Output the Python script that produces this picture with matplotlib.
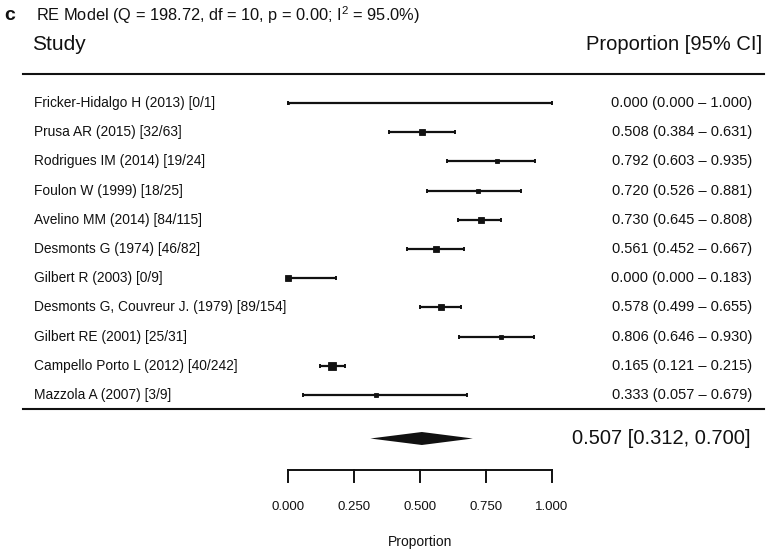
import matplotlib.pyplot as plt
import numpy as np

plt.rcParams["font.family"] = ["Liberation Sans", "DejaVu Sans"]
plt.rcParams["mathtext.fontset"] = "custom"
plt.rcParams["mathtext.rm"] = "Liberation Sans"
plt.rcParams["text.color"] = "#111111"

studies = [
    "Fricker-Hidalgo H (2013) [0/1]",
    "Prusa AR (2015) [32/63]",
    "Rodrigues IM (2014) [19/24]",
    "Foulon W (1999) [18/25]",
    "Avelino MM (2014) [84/115]",
    "Desmonts G (1974) [46/82]",
    "Gilbert R (2003) [0/9]",
    "Desmonts G, Couvreur J. (1979) [89/154]",
    "Gilbert RE (2001) [25/31]",
    "Campello Porto L (2012) [40/242]",
    "Mazzola A (2007) [3/9]",
]
est = [0.000, 0.508, 0.792, 0.720, 0.730, 0.561, 0.000, 0.578, 0.806, 0.165, 0.333]
lo = [0.000, 0.384, 0.603, 0.526, 0.645, 0.452, 0.000, 0.499, 0.646, 0.121, 0.057]
hi = [1.000, 0.631, 0.935, 0.881, 0.808, 0.667, 0.183, 0.655, 0.930, 0.215, 0.679]
# relative precision (drives box size)
precision = [0.0, 0.47, 0.25, 0.25, 0.62, 0.47, 0.51, 0.70, 0.38, 1.0, 0.13]

re_est, re_lo, re_hi = 0.507, 0.312, 0.700
Q, df, pval, I2 = 198.72, 10, 0.00, 95.0
ticks = [0.0, 0.25, 0.5, 0.75, 1.0]

W, H = 767, 554
x0_px, unit_px = 288, 264
row0_px, row_px = 103, 29.2


def px(p):
    # pixel row -> y units
    return (p - row0_px) / row_px


def pxx(p):
    # pixel column -> x units
    return (p - x0_px) / unit_px


fig = plt.figure(figsize=(W / 100, H / 100), dpi=100)
ax = fig.add_axes([0, 0, 1, 1])
ax.set_xlim(pxx(0), pxx(W))
ax.set_ylim(px(H), px(0))
ax.axis("off")

k = np.arange(len(studies))
est = np.array(est)
lo = np.array(lo)
hi = np.array(hi)
prec = np.array(precision)
sizes = (2.6 + 5.4 * prec) / 1.39

ax.errorbar(est, k, xerr=[est - lo, hi - est], fmt="none", ecolor="#111111",
            elinewidth=1.6, capsize=1.7, capthick=1.4)
for xi, yi, s in zip(est, k, sizes):
    ax.plot(xi, yi, "s", color="#111111", markersize=s, markeredgewidth=0.6,
            markeredgecolor="#111111")

for i, name in enumerate(studies):
    ax.text(pxx(34), i, name, ha="left", va="center", fontsize=9.9)
    ax.text(pxx(752), i, "%.3f (%.3f \u2013 %.3f)" % (est[i], lo[i], hi[i]),
            ha="right", va="center", fontsize=10.5)

# rules
ax.plot([pxx(23), pxx(764)], [px(74), px(74)], color="#111111", lw=1.5)
ax.plot([pxx(23), pxx(764)], [px(409), px(409)], color="#111111", lw=1.5)

# summary diamond
yd = px(438.5)
hd = 6.5 / row_px
ax.fill([re_lo, re_est, re_hi, re_est], [yd, yd - hd, yd, yd + hd],
        color="#111111", lw=0)
ax.text(pxx(751), yd, "%.3f [%.3f, %.3f]" % (re_est, re_lo, re_hi),
        ha="right", va="center", fontsize=14.5)

# x axis
ya = px(470)
ax.plot([ticks[0], ticks[-1]], [ya, ya], color="#111111", lw=1.4)
for t in ticks:
    ax.plot([t, t], [ya, px(482)], color="#111111", lw=1.4)
    ax.text(t, px(507), "%.3f" % t, ha="center", va="center", fontsize=9.5)
ax.text(0.5, px(542), "Proportion", ha="center", va="center", fontsize=10)

# headers
ax.text(pxx(4), px(15), "c", ha="left", va="center", fontsize=14, fontweight="bold")
ax.text(pxx(36), px(15),
        "RE Model (Q = %.2f, df = %d, p = %.2f; I$^{2}$ = %.1f%%)" % (Q, df, pval, I2),
        ha="left", va="center", fontsize=11.8)
ax.text(pxx(32), px(44), "Study", ha="left", va="center", fontsize=15)
ax.text(pxx(762), px(44), "Proportion [95% CI]", ha="right", va="center", fontsize=14.5)

fig.savefig("out.png", dpi=100)
